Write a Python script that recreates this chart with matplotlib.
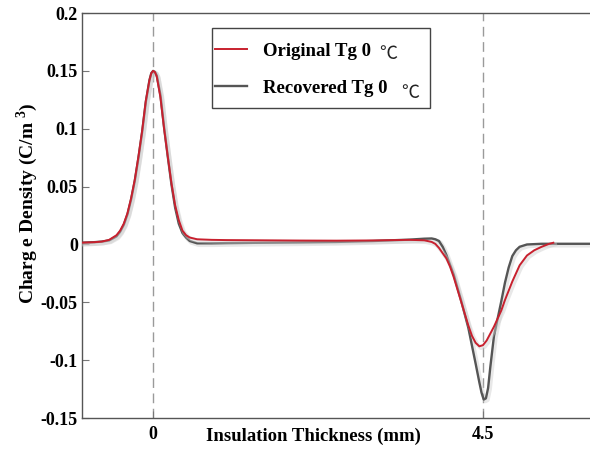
import matplotlib.pyplot as plt
import matplotlib.patheffects as pe
from matplotlib.patches import Rectangle

plt.rcParams['font.family'] = ['Liberation Serif', 'DejaVu Serif']
plt.rcParams['font.weight'] = 'bold'
plt.rcParams['mathtext.fontset'] = 'custom'
plt.rcParams['mathtext.bf'] = 'Liberation Serif:bold'

# charge density profiles (x in mm, rho in C/m^3)
x_orig = [-1.0, -0.8, -0.7, -0.6, -0.5, -0.45, -0.4, -0.35, -0.3, -0.25, -0.2, -0.15,
          -0.1, -0.05, -0.025, 0.0, 0.025, 0.05, 0.1, 0.15, 0.2, 0.25, 0.3, 0.35,
          0.4, 0.45, 0.5, 0.6, 0.8, 1.0, 1.5, 2.0, 2.5, 3.0, 3.5, 3.7, 3.8, 3.85,
          3.9, 4.0, 4.05, 4.1, 4.2, 4.3, 4.35, 4.4, 4.45, 4.5, 4.55, 4.6, 4.65,
          4.7, 4.75, 4.8, 4.9, 5.0, 5.1, 5.2, 5.3, 5.4, 5.46]
rho_orig = [0.0015, 0.002, 0.0025, 0.004, 0.008, 0.012, 0.018, 0.027, 0.040, 0.056,
            0.076, 0.098, 0.124, 0.142, 0.148, 0.150, 0.149, 0.145, 0.127, 0.100,
            0.076, 0.053, 0.034, 0.021, 0.012, 0.008, 0.006, 0.0045, 0.004, 0.0038,
            0.0036, 0.0034, 0.0033, 0.0035, 0.004, 0.0036, 0.0022, 0.0005, -0.003,
            -0.012, -0.019, -0.028, -0.049, -0.070, -0.079, -0.085, -0.088, -0.087,
            -0.083, -0.077, -0.071, -0.064, -0.057, -0.048, -0.032, -0.018, -0.0095,
            -0.005, -0.002, 0.0005, 0.0015]

x_rec = [-1.0, -0.8, -0.7, -0.6, -0.5, -0.45, -0.4, -0.35, -0.3, -0.25, -0.2, -0.15,
         -0.1, -0.05, -0.025, 0.0, 0.025, 0.05, 0.1, 0.15, 0.2, 0.25, 0.3, 0.35,
         0.4, 0.45, 0.5, 0.6, 0.8, 1.0, 1.5, 2.0, 2.5, 3.0, 3.5, 3.7, 3.8, 3.85,
         3.9, 3.95, 4.0, 4.1, 4.2, 4.3, 4.4, 4.45, 4.48, 4.51, 4.54, 4.57, 4.6,
         4.65, 4.7, 4.75, 4.8, 4.85, 4.9, 4.95, 5.0, 5.1, 5.3, 6.0]
rho_rec = [0.0015, 0.002, 0.0025, 0.0035, 0.007, 0.011, 0.017, 0.026, 0.039, 0.055,
           0.075, 0.097, 0.123, 0.142, 0.148, 0.150, 0.149, 0.146, 0.129, 0.101,
           0.076, 0.052, 0.032, 0.018, 0.010, 0.006, 0.003, 0.001, 0.001, 0.0012,
           0.0015, 0.0018, 0.0022, 0.003, 0.0042, 0.005, 0.0052, 0.0045, 0.003,
           -0.002, -0.009, -0.026, -0.048, -0.072, -0.103, -0.119, -0.128, -0.134,
           -0.133, -0.124, -0.106, -0.079, -0.064, -0.049, -0.033, -0.020, -0.010,
           -0.005, -0.002, 0.0, 0.0006, 0.0006]

series_labels = ['Original Tg 0', 'Recovered Tg 0']
unit = '\u2103'

xticks = [0, 4.5]
xtick_labels = ['0', '4.5']
yticks = [-0.15, -0.1, -0.05, 0, 0.05, 0.1, 0.15, 0.2]
ytick_labels = ['-0.15', '-0.1', '-0.05', '0', '0.05', '0.1', '0.15', '0.2']

fig = plt.figure(figsize=(5.9, 4.5), dpi=100)
ax = fig.add_axes([0.139, 0.071, 0.861, 0.9])

for xv in xticks:
    ax.axvline(xv, color='#9a9a9a', lw=1, linestyle=(0, (7, 4)), zorder=1)

shadow = [pe.SimpleLineShadow(offset=(1.2, -1.2), shadow_color='#cccccc', alpha=0.45, linewidth=3),
          pe.Normal()]
ax.plot(x_orig, rho_orig, color='#c8202e', lw=1.4, label=series_labels[0],
        zorder=3, path_effects=shadow)
ax.plot(x_rec, rho_rec, color='#555555', lw=1.7, label=series_labels[1],
        zorder=2, path_effects=shadow)

ax.set_xlim(-0.97, 5.96)
ax.set_ylim(-0.15, 0.2)
ax.set_xticks(xticks)
ax.set_xticklabels(xtick_labels)
ax.set_yticks(yticks)
ax.set_yticklabels(ytick_labels)
ax.tick_params(direction='in', length=5, width=0.8, color='#777777', labelsize=13, pad=3)
ax.tick_params(axis='x', pad=6)

for s in ['left', 'bottom', 'top']:
    ax.spines[s].set_color('#555555')
    ax.spines[s].set_linewidth(1.0)
ax.spines['right'].set_visible(False)

ax.set_xlabel('Insulation Thickness (mm)', fontsize=13.5, fontweight='bold')
ax.xaxis.set_label_coords(0.455, -0.025)
ax.set_ylabel('Charg e Density (C/m $^{\\mathbf{3}}$)', fontsize=14, fontweight='bold')
ax.yaxis.set_label_coords(-0.083, 0.53)

# legend frame drawn separately so the handles can sit close to the left edge
ax.add_patch(Rectangle((0.256, 0.765), 0.429, 0.198, transform=ax.transAxes,
                       fill=False, edgecolor='#444444', lw=1.0, zorder=4))
leg = ax.legend(loc='upper left', bbox_to_anchor=(0.262, 0.927), borderaxespad=0,
                frameon=False, borderpad=0, labelspacing=1.05,
                handlelength=1.7, handletextpad=0.85,
                prop={'family': ['Liberation Serif', 'DejaVu Serif'], 'weight': 'bold', 'size': 13.5})
for h in leg.legend_handles:
    h.set_path_effects([pe.Normal()])

# thin degree-Celsius signs after the legend labels
ax.text(0.602, 0.898, unit, transform=ax.transAxes, fontsize=13, fontweight='normal',
        family=['Noto Sans CJK SC', 'DejaVu Sans'], color='#222222', va='center', ha='center')
ax.text(0.646, 0.803, unit, transform=ax.transAxes, fontsize=13, fontweight='normal',
        family=['Noto Sans CJK SC', 'DejaVu Sans'], color='#222222', va='center', ha='center')

plt.savefig('out.png', dpi=100)
